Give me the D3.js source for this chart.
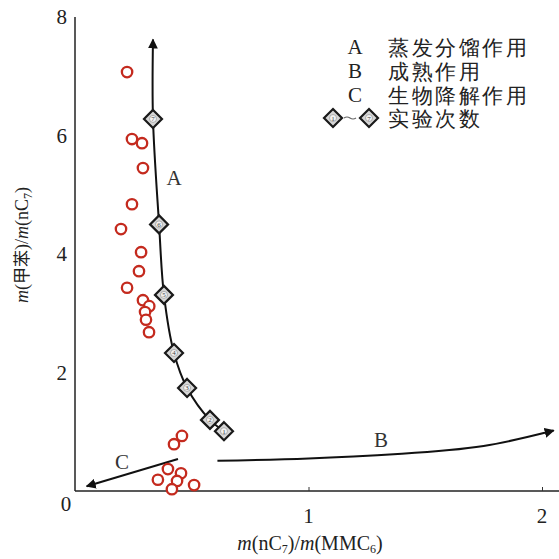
<!DOCTYPE html>
<html>
<head>
<meta charset="utf-8">
<script src="https://cdn.jsdelivr.net/npm/d3@7"></script>
<style>
body { margin: 0; background: #fff; }
text { font-family: "Liberation Serif", serif; }
</style>
</head>
<body>
<script>
var width = 559, height = 559;

// sample points (red circles)
var sampleX = [0.223, 0.244, 0.287, 0.291, 0.244, 0.197, 0.283, 0.274, 0.223, 0.291, 0.318, 0.300, 0.304, 0.317,
  0.458, 0.424, 0.398, 0.454, 0.355, 0.437, 0.510, 0.415];
var sampleY = [7.07, 5.94, 5.87, 5.45, 4.84, 4.42, 4.03, 3.71, 3.43, 3.22, 3.12, 3.02, 2.89, 2.68,
  0.93, 0.79, 0.37, 0.30, 0.19, 0.17, 0.10, 0.03];

// experiment runs (diamonds), run 1 at bottom
var runX = [0.638, 0.578, 0.480, 0.424, 0.381, 0.360, 0.334];
var runY = [1.01, 1.20, 1.74, 2.33, 3.31, 4.50, 6.28];
var runTop = [0.334, 7.62];

// trend B and C
var trendBX = [0.61, 1.0, 1.4, 1.75, 2.05];
var trendBY = [0.51, 0.55, 0.63, 0.76, 1.02];
var trendCX = [0.441, 0.05];
var trendCY = [0.54, 0.08];

var xTicks = [1, 2];
var yTicks = [2, 4, 6, 8];

var legendKeys = ["A", "B", "C"];
var legendNames = ["蒸发分馏作用", "成熟作用", "生物降解作用"];
var legendRun = "实验次数";

var x = d3.scaleLinear().domain([0, 2]).range([75, 542]);
var y = d3.scaleLinear().domain([0, 8]).range([491, 17]);

var svg = d3.select("body").append("svg").attr("width", width).attr("height", height);

var defs = svg.append("defs");
defs.append("marker")
  .attr("id", "head")
  .attr("viewBox", "0 0 10 10")
  .attr("refX", 9).attr("refY", 5)
  .attr("markerWidth", 5).attr("markerHeight", 5)
  .attr("markerUnits", "strokeWidth")
  .attr("orient", "auto")
  .append("path").attr("d", "M0,0 L10,5 L0,10 Z").attr("fill", "#111");

// axes
var xAxis = svg.append("g").attr("transform", "translate(0," + y(0) + ")")
  .call(d3.axisBottom(x).tickValues(xTicks).tickSize(-4).tickFormat(""));
xAxis.select(".domain").attr("d", "M" + x(0) + ",0H" + (width));
var yAxis = svg.append("g").attr("transform", "translate(" + x(0) + ",0)")
  .call(d3.axisLeft(y).tickValues(yTicks).tickSize(0).tickFormat(""));
yAxis.select(".domain").attr("d", "M0," + y(8) + "V" + y(0));
svg.selectAll(".domain").attr("stroke", "#222").attr("stroke-width", 1.5);
svg.selectAll(".tick line").attr("stroke", "#333");

svg.selectAll(".xlab").data(xTicks).enter().append("text")
  .attr("x", d => x(d)).attr("y", 523)
  .attr("text-anchor", "middle").attr("font-size", 21).attr("fill", "#222")
  .text(d => d);
svg.append("text").attr("x", 66).attr("y", 511).attr("text-anchor", "middle")
  .attr("font-size", 21).attr("fill", "#222").text("0");
svg.selectAll(".ylab").data(yTicks).enter().append("text")
  .attr("x", 67).attr("y", d => y(d) + 7)
  .attr("text-anchor", "end").attr("font-size", 21).attr("fill", "#222")
  .text(d => d);

// axis titles
var xt = svg.append("text").attr("x", 310).attr("y", 550).attr("text-anchor", "middle")
  .attr("font-size", 20).attr("fill", "#222");
xt.append("tspan").attr("font-style", "italic").text("m");
xt.append("tspan").text("(nC");
xt.append("tspan").attr("font-size", 12).attr("dy", 3).text("7");
xt.append("tspan").attr("dy", -3).text(")/");
xt.append("tspan").attr("font-style", "italic").text("m");
xt.append("tspan").text("(MMC");
xt.append("tspan").attr("font-size", 12).attr("dy", 3).text("6");
xt.append("tspan").attr("dy", -3).text(")");

var yt = svg.append("text").attr("transform", "translate(28,245) rotate(-90)")
  .attr("text-anchor", "middle").attr("font-size", 18).attr("fill", "#222");
yt.append("tspan").attr("font-style", "italic").text("m");
yt.append("tspan").text("(");
yt.append("tspan").attr("font-family", "Noto Sans CJK SC").attr("font-size", 17).text("甲苯");
yt.append("tspan").text(")/");
yt.append("tspan").attr("font-style", "italic").text("m");
yt.append("tspan").text("(nC");
yt.append("tspan").attr("font-size", 12).attr("dy", 4).text("7");
yt.append("tspan").attr("dy", -4).text(")");

// trend lines
var line = d3.line().x(d => x(d[0])).y(d => y(d[1]));
var runPts = runX.map((d, i) => [d, runY[i]]);
svg.append("path").datum(runPts.concat([runTop]))
  .attr("d", line.curve(d3.curveCatmullRom))
  .attr("fill", "none").attr("stroke", "#111").attr("stroke-width", 2)
  .attr("marker-end", "url(#head)");
svg.append("path").datum(trendBX.map((d, i) => [d, trendBY[i]]))
  .attr("d", d3.line().x(d => x(d[0])).y(d => y(d[1])).curve(d3.curveNatural))
  .attr("fill", "none").attr("stroke", "#111").attr("stroke-width", 2)
  .attr("marker-end", "url(#head)");
svg.append("path").datum(trendCX.map((d, i) => [d, trendCY[i]]))
  .attr("d", d3.line().x(d => x(d[0])).y(d => y(d[1])))
  .attr("fill", "none").attr("stroke", "#111").attr("stroke-width", 2)
  .attr("marker-end", "url(#head)");

// samples
svg.selectAll(".sample").data(sampleX).enter().append("circle")
  .attr("cx", d => x(d)).attr("cy", (d, i) => y(sampleY[i])).attr("r", 5.2)
  .attr("fill", "#fff").attr("stroke", "#c42a1e").attr("stroke-width", 2.3);

// diamonds
function diamond(g, cx, cy, n) {
  g.append("path")
    .attr("d", "M" + cx + "," + (cy - 9) + "L" + (cx + 9) + "," + cy + "L" + cx + "," + (cy + 9) + "L" + (cx - 9) + "," + cy + "Z")
    .attr("fill", "#d6d6d6").attr("stroke", "#1a1a1a").attr("stroke-width", 2.2);
  g.append("circle").attr("cx", cx).attr("cy", cy).attr("r", 3.5).attr("fill", "#f2f2f2").attr("stroke", "#888").attr("stroke-width", 0.6);
  g.append("text").attr("x", cx).attr("y", cy + 2.5).attr("text-anchor", "middle")
    .attr("font-size", 7).attr("fill", "#444").text(n);
}
runX.forEach(function(d, i) { diamond(svg, x(d), y(runY[i]), i + 1); });

// curve labels
svg.append("text").attr("x", 174).attr("y", 185).attr("text-anchor", "middle").attr("font-size", 21).attr("fill", "#333").text("A");
svg.append("text").attr("x", 381).attr("y", 447).attr("text-anchor", "middle").attr("font-size", 21).attr("fill", "#333").text("B");
svg.append("text").attr("x", 122).attr("y", 469).attr("text-anchor", "middle").attr("font-size", 21).attr("fill", "#333").text("C");

// legend
var lg = svg.append("g");
legendKeys.forEach(function(k, i) {
  var ly = 47 + i * 24;
  lg.append("text").attr("x", 355).attr("y", ly + 7).attr("text-anchor", "middle")
    .attr("font-size", 21).attr("fill", "#222").text(k);
  lg.append("text").attr("x", 388).attr("y", ly + 8)
    .attr("font-family", "Noto Sans CJK SC").attr("font-size", 21).attr("letter-spacing", 2.5)
    .attr("fill", "#222").text(legendNames[i]);
});
diamond(lg, 333, 118, "1");
diamond(lg, 369, 118, "7");
lg.append("path").attr("d", "M344,118 q3,-2 6,0 t6,0").attr("fill", "none").attr("stroke", "#666").attr("stroke-width", 1.2);
lg.append("text").attr("x", 388).attr("y", 126)
  .attr("font-family", "Noto Sans CJK SC").attr("font-size", 21).attr("letter-spacing", 2.5)
  .attr("fill", "#222").text(legendRun);
</script>
</body>
</html>
